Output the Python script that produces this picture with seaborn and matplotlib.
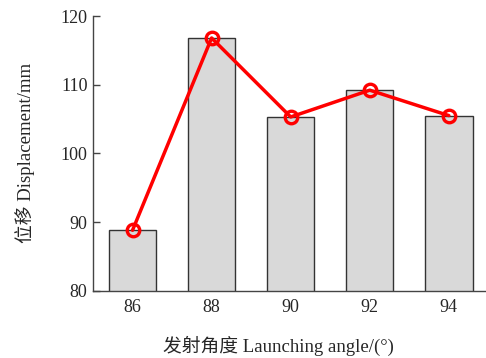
import matplotlib
matplotlib.use("Agg")
import matplotlib.pyplot as plt
import seaborn as sns
import pandas as pd

# Launch angle (degrees) and measured displacement (mm)
angles = ["86", "88", "90", "92", "94"]
displacement = [88.8, 116.8, 105.3, 109.2, 105.5]
y_ticks = [80, 90, 100, 110, 120]

sns.set_theme(style="ticks")
plt.rcParams["font.family"] = ["Liberation Serif", "Noto Sans CJK SC"]

df = pd.DataFrame({"angle": angles, "disp": displacement})

fig = plt.figure(figsize=(4.86, 3.58), dpi=100)
ax = fig.add_axes([93 / 486, 1 - 290.7 / 358, 1 - 93 / 486, (290.7 - 16) / 358])

sns.barplot(data=df, x="angle", y="disp", color="#d9d9d9", width=0.6,
            edgecolor="#333333", linewidth=1.0, saturation=1, ax=ax)
sns.pointplot(data=df, x="angle", y="disp", color="#ff0000",
              markers="o", markersize=9, markerfacecolor="white",
              markeredgewidth=2.4, linewidth=2.5, ax=ax)
for line in ax.lines:
    line.set_markerfacecolor("none")

ax.set_ylim(80, 120)
ax.set_xlim(-0.5, 4.47)
ax.set_yticks(y_ticks)

for side in ("top", "right"):
    ax.spines[side].set_visible(False)
for side in ("left", "bottom"):
    ax.spines[side].set_color("#444444")
    ax.spines[side].set_linewidth(1.0)

ax.tick_params(axis="y", direction="in", length=5, width=1.0,
               color="#444444", labelsize=13, pad=4)
ax.tick_params(axis="x", length=0, labelsize=13, pad=6)

ax.set_xlabel("发射角度 Launching angle/(°)", fontsize=13.5)
ax.set_ylabel("位移 Displacement/mm", fontsize=13.5, labelpad=18)
ax.xaxis.set_label_coords(0.472, -0.165)

fig.savefig("out.png", dpi=100)
